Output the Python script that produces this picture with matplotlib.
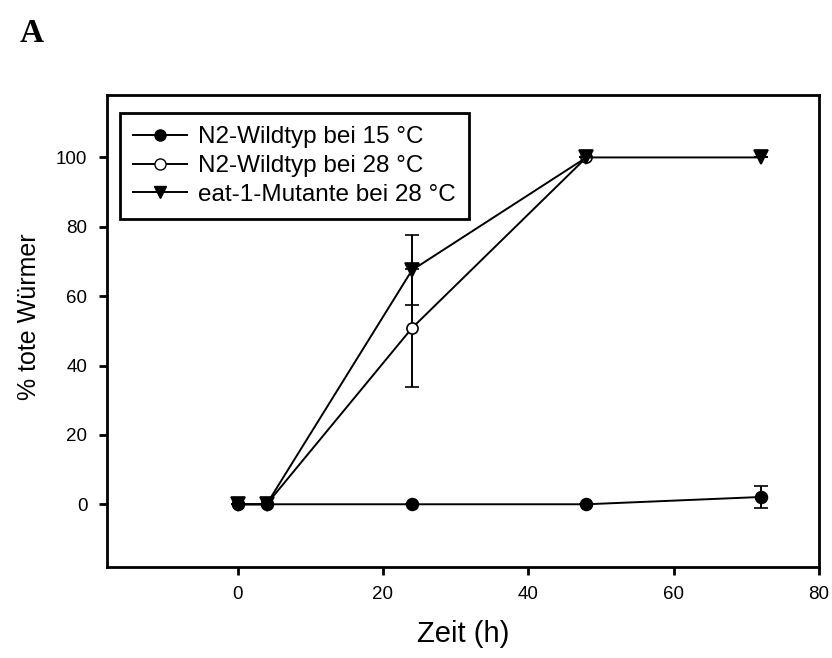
import matplotlib
matplotlib.use("Agg")
import matplotlib.pyplot as plt
from matplotlib.lines import Line2D

# ====== DATEN ======
zeit = [0, 4, 24, 48, 72]
zeit_28 = [0, 4, 24, 48]

n2_15 = [0, 0, 0, 0, 2.1]
n2_15_err = [0, 0, 0, 0, 3.2]

n2_28 = [0, 0, 50.8, 100]
n2_28_err = [0, 0, 17, 0]

eat1_28 = [0, 0, 67.5, 100, 100]
eat1_28_err = [0, 0, 10, 0, 0]

labels = ["N2-Wildtyp bei 15 °C", "N2-Wildtyp bei 28 °C", "eat-1-Mutante bei 28 °C"]
xticks = [0, 20, 40, 60, 80]
yticks = [0, 20, 40, 60, 80, 100]

plt.rcParams["font.family"] = ["Liberation Sans", "DejaVu Sans"]

fig = plt.figure(figsize=(8.32, 6.58), dpi=100)
ax = fig.add_axes([106.7 / 832, 1 - 566.7 / 658, (819 - 106.7) / 832, (566.7 - 95) / 658])

common = dict(color="black", linewidth=1.4, elinewidth=1.4, capsize=5, capthick=1.4,
              markeredgecolor="black", markeredgewidth=1.2)

# Reihenfolge: offene Kreise unten, gefüllte Kreise oben
ax.errorbar(zeit_28, n2_28, yerr=n2_28_err, marker="o", markersize=8,
            markerfacecolor="white", zorder=2, **common)
ax.errorbar(zeit, eat1_28, yerr=eat1_28_err, marker="v", markersize=9.5,
            markerfacecolor="black", zorder=3, **common)
ax.errorbar(zeit, n2_15, yerr=n2_15_err, marker="o", markersize=8.5,
            markerfacecolor="black", zorder=4, **common)

ax.set_xlim(-18, 80)
ax.set_ylim(-18, 118)
ax.set_xticks(xticks)
ax.set_yticks(yticks)

for sp in ax.spines.values():
    sp.set_linewidth(2)
ax.tick_params(direction="out", length=6, width=2, labelsize=13.5, pad=8)

ax.set_xlabel("Zeit (h)", fontsize=21, labelpad=12)
ax.set_ylabel("% tote Würmer", fontsize=18)
ax.yaxis.set_label_coords(-0.092, 0.53)

# Legende ohne Fehlerbalken in den Symbolen
handles = [
    Line2D([], [], color="black", lw=1.4, marker="o", markersize=8, markerfacecolor="black"),
    Line2D([], [], color="black", lw=1.4, marker="o", markersize=8, markerfacecolor="white"),
    Line2D([], [], color="black", lw=1.4, marker="v", markersize=9, markerfacecolor="black"),
]
leg = ax.legend(handles, labels, loc="upper left", bbox_to_anchor=(0.0187, 0.962),
                fontsize=17.5, frameon=True, fancybox=False, edgecolor="black",
                framealpha=1, handlelength=2.2, handletextpad=0.45, labelspacing=0.28,
                borderpad=0.55, borderaxespad=0)
leg.get_frame().set_linewidth(2)

fig.text(20 / 832, 1 - 42 / 658, "A", fontsize=24, fontweight="bold",
         family="Liberation Serif", ha="left", va="baseline")

fig.savefig("out.png", dpi=100)
